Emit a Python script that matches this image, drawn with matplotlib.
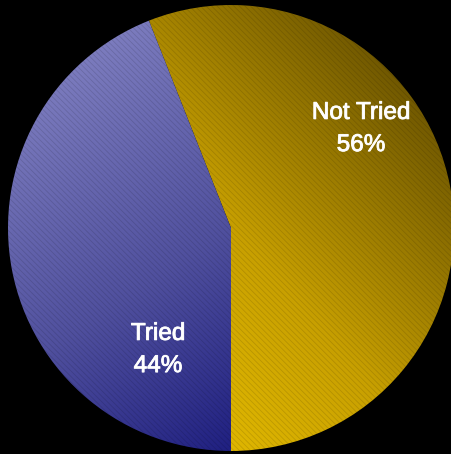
import matplotlib.pyplot as plt
import numpy as np
import matplotlib.patheffects as pe
from matplotlib.colors import LinearSegmentedColormap

labels = ["Not Tried", "Tried"]
shares = [56, 44]

# gradient colours per wedge (light end -> dark end)
grad_colors = {
    "Not Tried": ["#fad000", "#c8a000", "#4e3c00"],
    "Tried": ["#8c8cca", "#50509e", "#00006e"],
}
# gradient direction (unit vector pointing from light to dark end)
grad_dirs = {
    "Not Tried": (0.75, 0.66),
    "Tried": (0.55, -0.83),
}
label_pos = {"Not Tried": (361, 129), "Tried": (158, 350)}

W, H = 452, 454
cx, cy, r = 231, H - 228, 223

plt.rcParams["hatch.linewidth"] = 0.6
fig = plt.figure(figsize=(W / 100, H / 100), dpi=100, facecolor="black")
ax = fig.add_axes([0, 0, 1, 1])
ax.set_facecolor("black")

wedges, _ = ax.pie(shares, startangle=-90, counterclock=True,
                   center=(cx, cy), radius=r, frame=True,
                   wedgeprops=dict(linewidth=0))

yy, xx = np.mgrid[cy + r:cy - r:-0.5, cx - r:cx + r:0.5]
for w, lab, val in zip(wedges, labels, shares):
    cmap = LinearSegmentedColormap.from_list(lab, grad_colors[lab])
    dx, dy = grad_dirs[lab]
    t = ((xx - cx) * dx + (yy - cy) * dy) / r
    t = (t - t.min()) / (t.max() - t.min())
    w.set_facecolor("none")
    im = ax.imshow(t, cmap=cmap, extent=(cx - r, cx + r, cy - r, cy + r),
                   origin="upper", interpolation="bilinear", zorder=1)
    im.set_clip_path(w)
    w.set_zorder(2)
    # fine diagonal texture
    w.set_hatch("\\\\\\\\\\\\")
    w.set_edgecolor((0, 0, 0, 0.12))
    x, y = label_pos[lab]
    ax.text(x, H - y, f"{lab}\n{val}%", color="white",
            ha="center", va="center", fontsize=17.5, family="Liberation Sans",
            linespacing=1.6, zorder=3,
            path_effects=[pe.withStroke(linewidth=0.6, foreground="white")])

ax.set_xlim(0, W)
ax.set_ylim(0, H)
ax.set_aspect("auto")
ax.axis("off")
fig.savefig("out.png", dpi=100, facecolor="black")
